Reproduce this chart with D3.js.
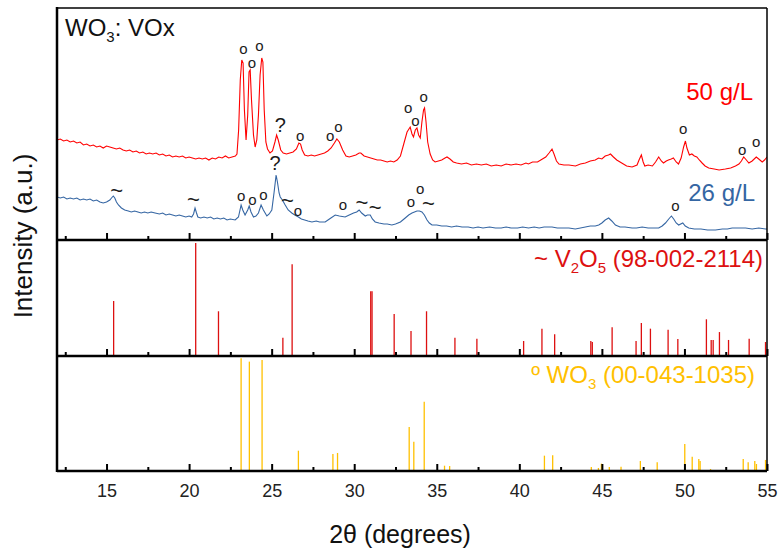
<!DOCTYPE html>
<html>
<head>
<meta charset="utf-8">
<title>WO3: VOx XRD</title>
<script src="https://cdn.jsdelivr.net/npm/d3@7"></script>
<style>
    body { margin: 0; background: #fff; }
    svg text { font-family: Arial, "Liberation Sans", sans-serif; }
</style>
</head>
<body>
<div id="chart"></div>
<script>

// 2theta (deg), intensity (a.u., offset stacked) - 50 g/L
var red50 = [
    [12.0,100],[12.2,101],[12.4,99],[12.6,100],[12.8,98],[13.0,99],[13.2,97],[13.4,98],[13.6,95],[13.8,96],
    [14.0,94],[14.2,95],[14.4,93],[14.6,94],[14.8,92],[15.0,94],[15.2,93],[15.4,92],[15.6,91],[15.8,92],
    [16.0,90],[16.2,89],[16.4,90],[16.6,88],[16.8,89],[17.0,87],[17.2,88],[17.4,86],[17.6,87],[17.8,86],
    [18.0,87],[18.2,85],[18.4,86],[18.6,84],[18.8,85],[19.0,83],[19.2,84],[19.4,83],[19.6,84],[19.8,82],
    [20.0,83],[20.2,82],[20.4,81],[20.6,82],[20.8,81],[21.0,82],[21.2,80],[21.4,82],[21.6,81],[21.8,83],
    [22.0,82],[22.2,84],[22.4,82],[22.6,83],[22.8,84],[22.9,86],[23.0,110],[23.1,160],[23.19,180],[23.27,177],
    [23.35,130],[23.45,100],[23.55,125],[23.63,168],[23.7,170],[23.78,140],[23.9,105],[24.0,93],[24.1,100],[24.2,125],
    [24.3,165],[24.4,182],[24.47,178],[24.55,130],[24.65,98],[24.75,91],[24.9,87],[25.05,89],[25.2,98],[25.3,105],
    [25.4,100],[25.55,90],[25.7,87],[25.9,86],[26.1,87],[26.3,88],[26.5,91],[26.65,97],[26.75,96],[26.85,90],
    [27.0,85],[27.2,84],[27.4,85],[27.6,84],[27.8,85],[28.0,86],[28.2,87],[28.4,89],[28.6,92],[28.8,97],
    [28.95,101],[29.1,98],[29.3,90],[29.5,84],[29.7,83],[29.9,84],[30.1,85],[30.3,87],[30.4,87],[30.6,84],
    [30.8,83],[31.0,82],[31.2,81],[31.4,80],[31.6,80],[31.8,79],[32.0,78],[32.2,79],[32.4,78],[32.6,80],
    [32.8,84],[33.0,96],[33.2,108],[33.39,113],[33.5,106],[33.59,103],[33.7,110],[33.8,112],[33.9,105],[34.0,102],
    [34.1,118],[34.2,130],[34.26,132],[34.35,118],[34.45,98],[34.6,86],[34.75,80],[34.9,78],[35.1,79],[35.3,80],
    [35.5,82],[35.62,83],[35.8,81],[36.0,78],[36.2,77],[36.5,76],[36.8,77],[37.1,75],[37.4,76],[37.7,75],
    [38.0,76],[38.3,74],[38.6,75],[38.9,74],[39.2,76],[39.5,75],[39.8,76],[40.1,75],[40.4,77],[40.55,76],
    [40.8,78],[41.1,78],[41.4,81],[41.6,83],[41.8,87],[41.98,91],[42.1,86],[42.25,79],[42.4,76],[42.7,75],
    [43.0,75],[43.4,74],[43.7,76],[44.0,77],[44.3,79],[44.6,80],[44.8,82],[45.0,81],[45.2,84],[45.4,85],
    [45.52,86],[45.7,83],[45.9,80],[46.1,78],[46.3,76],[46.5,74],[46.83,73],[47.13,75],[47.25,80],[47.39,85],
    [47.5,78],[47.6,74],[47.8,75],[48.06,74],[48.25,78],[48.44,83],[48.6,79],[48.73,77],[48.9,79],[49.03,80],
    [49.2,81],[49.33,82],[49.5,78],[49.64,76],[49.8,82],[49.95,93],[50.06,99],[50.15,92],[50.3,85],[50.45,86],
    [50.6,84],[50.75,83],[50.9,80],[51.07,77],[51.25,74],[51.47,72],[51.8,71],[52.1,70],[52.48,71],[52.8,72],
    [53.09,74],[53.3,76],[53.45,79],[53.59,83],[53.75,80],[53.9,77],[54.1,79],[54.35,83],[54.5,81],[54.71,78],
    [54.85,80],[55.0,83]
];

// 26 g/L
var blue26 = [
    [12.0,43],[12.2,42],[12.4,43],[12.6,41],[12.8,42],[13.0,41],[13.2,42],[13.4,40],[13.6,41],[13.8,40],
    [14.0,41],[14.2,39],[14.4,40],[14.6,38],[14.8,37],[15.0,38],[15.2,40],[15.3,42],[15.41,44],[15.5,42],
    [15.6,38],[15.72,35],[15.9,32],[16.1,30],[16.32,29],[16.5,28],[16.7,29],[16.9,28],[17.1,27],[17.3,28],
    [17.5,27],[17.7,28],[17.94,27],[18.2,26],[18.4,27],[18.6,25],[18.8,26],[19.0,25],[19.2,24],[19.4,25],
    [19.6,24],[19.8,23],[20.0,24],[20.16,23],[20.27,26],[20.36,32],[20.45,27],[20.53,23],[20.7,22],[20.9,23],
    [21.1,22],[21.3,23],[21.5,21],[21.7,22],[21.9,21],[22.1,22],[22.3,20],[22.5,21],[22.79,20],[22.99,23],
    [23.15,35],[23.25,30],[23.39,25],[23.55,30],[23.64,34],[23.75,28],[23.9,23],[24.05,24],[24.2,27],[24.36,35],
    [24.5,30],[24.71,24],[24.85,26],[25.01,30],[25.15,48],[25.27,65],[25.35,58],[25.45,47],[25.52,43],[25.65,40],
    [25.82,35],[26.0,30],[26.22,27],[26.4,25],[26.62,23],[26.8,21],[27.0,20],[27.2,19],[27.44,18],[27.7,19],
    [27.9,18],[28.24,18],[28.5,21],[28.85,25],[29.1,24],[29.45,23],[29.7,25],[29.96,27],[30.15,28],[30.3,30],
    [30.45,27],[30.67,24],[30.8,25],[30.97,25],[31.1,21],[31.27,18],[31.5,17],[31.8,16],[32.0,16],[32.28,15],
    [32.5,16],[32.8,18],[33.09,22],[33.3,25],[33.5,27],[33.65,28],[33.8,29],[33.95,29],[34.1,28],[34.25,25],
    [34.41,20],[34.55,17],[34.71,15],[35.0,15],[35.3,14],[35.6,14],[35.9,13],[36.2,14],[36.53,13],[36.9,13],
    [37.2,12],[37.5,13],[37.8,12],[38.2,13],[38.55,12],[38.9,12],[39.2,13],[39.5,12],[39.9,12],[40.2,13],
    [40.56,12],[40.9,13],[41.2,12],[41.5,13],[41.98,13],[42.3,12],[42.7,12],[43.0,12],[43.39,11],[43.7,12],
    [44.0,13],[44.3,14],[44.6,14],[44.81,15],[45.0,17],[45.2,20],[45.41,22],[45.6,19],[45.82,15],[46.1,13],
    [46.4,13],[46.83,12],[47.1,12],[47.44,13],[47.8,12],[48.1,12],[48.44,12],[48.65,14],[48.85,17],[49.05,21],
    [49.21,24],[49.35,21],[49.5,17],[49.65,15],[49.9,17],[50.05,14],[50.26,12],[50.6,11],[51.0,11],[51.4,10],
    [51.88,10],[52.3,11],[52.6,11],[52.89,12],[53.3,12],[53.7,12],[54.1,11],[54.5,12],[54.91,11],[55.0,11]
];

// V2O5 reference (98-002-2114): 2theta, relative intensity
var v2o5Ref = [
    [15.43,48.7],[20.4,100],[21.78,39.6],[25.68,16.2],[26.24,81.2],[31.0,57.3],[31.08,57.3],[32.42,37.2],
    [33.44,22.1],[34.38,39.6],[36.1,16.2],[37.43,15.3],[40.26,13.3],[41.37,24.2],[42.14,19.2],[44.33,13.3],
    [44.42,12.5],[45.62,25.4],[47.07,13.3],[47.39,29.2],[47.94,24.2],[49.01,23.3],[49.6,15],[51.33,32.5],
    [51.62,14.2],[51.74,14.2],[52.12,21.2],[52.67,14.2],[53.92,15.3],[54.91,12.4]
];

// WO3 reference (00-043-1035)
var wo3Ref = [
    [16.93,0.9],[20.67,0.9],[23.15,100],[23.65,97],[24.42,98.5],[26.08,0.9],[26.34,0.9],[26.62,18],
    [28.71,15],[28.99,16],[29.2,0.9],[33.33,39],[33.61,26],[34.24,61.5],[35.47,4.7],[35.78,4.4],
    [36.0,0.9],[36.2,0.9],[36.9,0.9],[37.2,0.9],[38.95,0.9],[39.25,0.9],[39.6,0.9],[40.06,1.2],
    [40.56,0.9],[40.87,0.9],[41.52,13.6],[42.02,13.9],[42.9,0.9],[43.2,0.9],[43.7,0.9],[44.36,3.5],
    [44.79,2.7],[44.97,6.5],[45.45,3.5],[46.16,3.8],[47.33,8.9],[48.35,7.7],[48.95,0.9],[49.56,0.9],
    [50.02,24],[50.47,12.7],[50.87,10.6],[50.95,8.9],[51.58,1.8],[53.56,10.6],[53.86,7.7],[54.26,8.9],
    [54.36,6.2],[54.91,9.8]
];

// peak markers in top panel: 2theta, intensity, symbol
var peakMarks = [
    [23.29,192,"o"],[23.8,178,"o"],[24.26,195,"o"],[25.52,115,"?"],[26.73,105,"o"],[28.55,105,"o"],[29.05,114,"o"],
    [33.27,133,"o"],[33.7,120,"o"],[34.2,143.3,"o"],[49.92,111.7,"o"],[53.5,90.7,"o"],[54.35,98.3,"o"],
    [15.62,50,"~"],[20.26,41,"~"],[23.15,45,"o"],[23.84,41,"o"],[24.5,46,"o"],[25.21,77,"?"],[25.96,40,"~"],
    [26.59,30,"o"],[29.32,36,"o"],[30.47,38,"~"],[31.27,33,"~"],[33.44,38.3,"o"],[34.0,51.7,"o"],[34.5,36.7,"~"],
    [49.45,35,"o"]
];

var majorTicks = [15, 20, 25, 30, 35, 40, 45, 50, 55];
var minorTicks = [12.5, 17.5, 22.5, 27.5, 32.5, 37.5, 42.5, 47.5, 52.5];

var W = 779, H = 550;
var left = 57, right = 767;
var top1 = 8, bot1 = 240, bot2 = 356, bot3 = 471;

var svg = d3.select("#chart").append("svg")
    .attr("width", W)
    .attr("height", H);

var x = d3.scaleLinear().domain([12, 55]).range([left, right]);
var y1 = d3.scaleLinear().domain([0, 232]).range([bot1, top1]);
var y2 = d3.scaleLinear().domain([0, 102.7]).range([bot2, bot1]);
var y3 = d3.scaleLinear().domain([0, 102]).range([bot3, bot2]);

svg.append("clipPath").attr("id", "plotclip")
    .append("rect").attr("x", left).attr("y", top1).attr("width", right - left).attr("height", bot3 - top1);

var plot = svg.append("g").attr("clip-path", "url(#plotclip)");

var line = d3.line()
    .x(function (d) { return x(d[0]); })
    .y(function (d) { return y1(d[1]); });

plot.append("path").datum(red50)
    .attr("d", line)
    .attr("fill", "none")
    .attr("stroke", "#ff0000")
    .attr("stroke-width", 1.1);

plot.append("path").datum(blue26)
    .attr("d", line)
    .attr("fill", "none")
    .attr("stroke", "#3566a3")
    .attr("stroke-width", 1.1);

// stick patterns
plot.append("g").selectAll("line")
    .data(v2o5Ref)
    .enter().append("line")
    .attr("x1", function (d) { return x(d[0]); })
    .attr("x2", function (d) { return x(d[0]); })
    .attr("y1", y2(0))
    .attr("y2", function (d) { return y2(d[1]); })
    .attr("stroke", "#dd1010")
    .attr("stroke-width", 1.3);

plot.append("g").selectAll("line")
    .data(wo3Ref)
    .enter().append("line")
    .attr("x1", function (d) { return x(d[0]); })
    .attr("x2", function (d) { return x(d[0]); })
    .attr("y1", y3(0))
    .attr("y2", function (d) { return y3(d[1]); })
    .attr("stroke", "#ffc000")
    .attr("stroke-width", 1.3);

// peak markers
svg.append("g").selectAll("text")
    .data(peakMarks)
    .enter().append("text")
    .attr("x", function (d) { return x(d[0]); })
    .attr("y", function (d) { return y1(d[1]); })
    .attr("text-anchor", "middle")
    .attr("dominant-baseline", "central")
    .style("font-size", function (d) { return d[2] == "o" ? "15px" : (d[2] == "?" ? "20px" : "22px"); })
    .style("fill", "#1a1a1a")
    .text(function (d) { return d[2]; });

// inward ticks at bottom of each panel
[bot1, bot2, bot3].forEach(function (b) {
    svg.append("g")
        .attr("transform", "translate(0," + b + ")")
        .call(d3.axisTop(x).tickValues(majorTicks).tickSize(7).tickFormat(""))
        .call(function (g) { g.select(".domain").remove(); })
        .selectAll("line").attr("stroke", "#000").attr("stroke-width", 2);
    svg.append("g")
        .attr("transform", "translate(0," + b + ")")
        .call(d3.axisTop(x).tickValues(minorTicks).tickSize(4).tickFormat(""))
        .call(function (g) { g.select(".domain").remove(); })
        .selectAll("line").attr("stroke", "#000").attr("stroke-width", 2);
});

// tick labels
var xl = svg.append("g")
    .attr("transform", "translate(0," + bot3 + ")")
    .call(d3.axisBottom(x).tickValues(majorTicks).tickSize(0).tickPadding(13));
xl.select(".domain").remove();
xl.selectAll("text")
    .style("font-size", "18px")
    .style("font-family", "Arial, 'Liberation Sans', sans-serif")
    .attr("fill", "#222");

// frame
svg.append("line").attr("x1", left).attr("x2", left).attr("y1", top1 - 1).attr("y2", bot3 + 1)
    .attr("stroke", "#000").attr("stroke-width", 2.5);
svg.append("line").attr("x1", right).attr("x2", right).attr("y1", top1).attr("y2", bot3)
    .attr("stroke", "#000").attr("stroke-width", 1.5);
[top1, bot1, bot2, bot3].forEach(function (b, i) {
    svg.append("line").attr("x1", left).attr("x2", right).attr("y1", b).attr("y2", b)
        .attr("stroke", "#000").attr("stroke-width", i == 0 ? 1.5 : 2.5);
});

// labels
var t = svg.append("text").attr("x", 65).attr("y", 36)
    .style("font-size", "24px").style("fill", "#111");
t.append("tspan").text("WO");
t.append("tspan").attr("dy", 6).style("font-size", "15px").text("3");
t.append("tspan").attr("dy", -6).text(": VOx");

svg.append("text").attr("x", 753).attr("y", 100)
    .attr("text-anchor", "end")
    .style("font-size", "24px").style("fill", "#ff0000")
    .text("50 g/L");

svg.append("text").attr("x", 755).attr("y", 201)
    .attr("text-anchor", "end")
    .style("font-size", "24px").style("fill", "#3566a3")
    .text("26 g/L");

var tv = svg.append("text").attr("x", 763).attr("y", 267)
    .attr("text-anchor", "end")
    .style("font-size", "24px").style("fill", "#dd1010");
tv.append("tspan").text("~ V");
tv.append("tspan").attr("dy", 6).style("font-size", "15px").text("2");
tv.append("tspan").attr("dy", -6).text("O");
tv.append("tspan").attr("dy", 6).style("font-size", "15px").text("5");
tv.append("tspan").attr("dy", -6).text(" (98-002-2114)");

var tw = svg.append("text").attr("x", 755).attr("y", 383)
    .attr("text-anchor", "end")
    .style("font-size", "24px").style("fill", "#ffc000");
tw.append("tspan").text("º WO");
tw.append("tspan").attr("dy", 6).style("font-size", "15px").text("3");
tw.append("tspan").attr("dy", -6).text(" (00-043-1035)");

// axis titles
svg.append("text")
    .attr("x", 400)
    .attr("y", 543)
    .attr("text-anchor", "middle")
    .style("font-size", "25px").style("fill", "#111")
    .text("2θ (degrees)");

svg.append("text")
    .attr("transform", "translate(32,236) rotate(-90)")
    .attr("text-anchor", "middle")
    .style("font-size", "26px").style("fill", "#111")
    .text("Intensity (a.u.)");

</script>
</body>
</html>
